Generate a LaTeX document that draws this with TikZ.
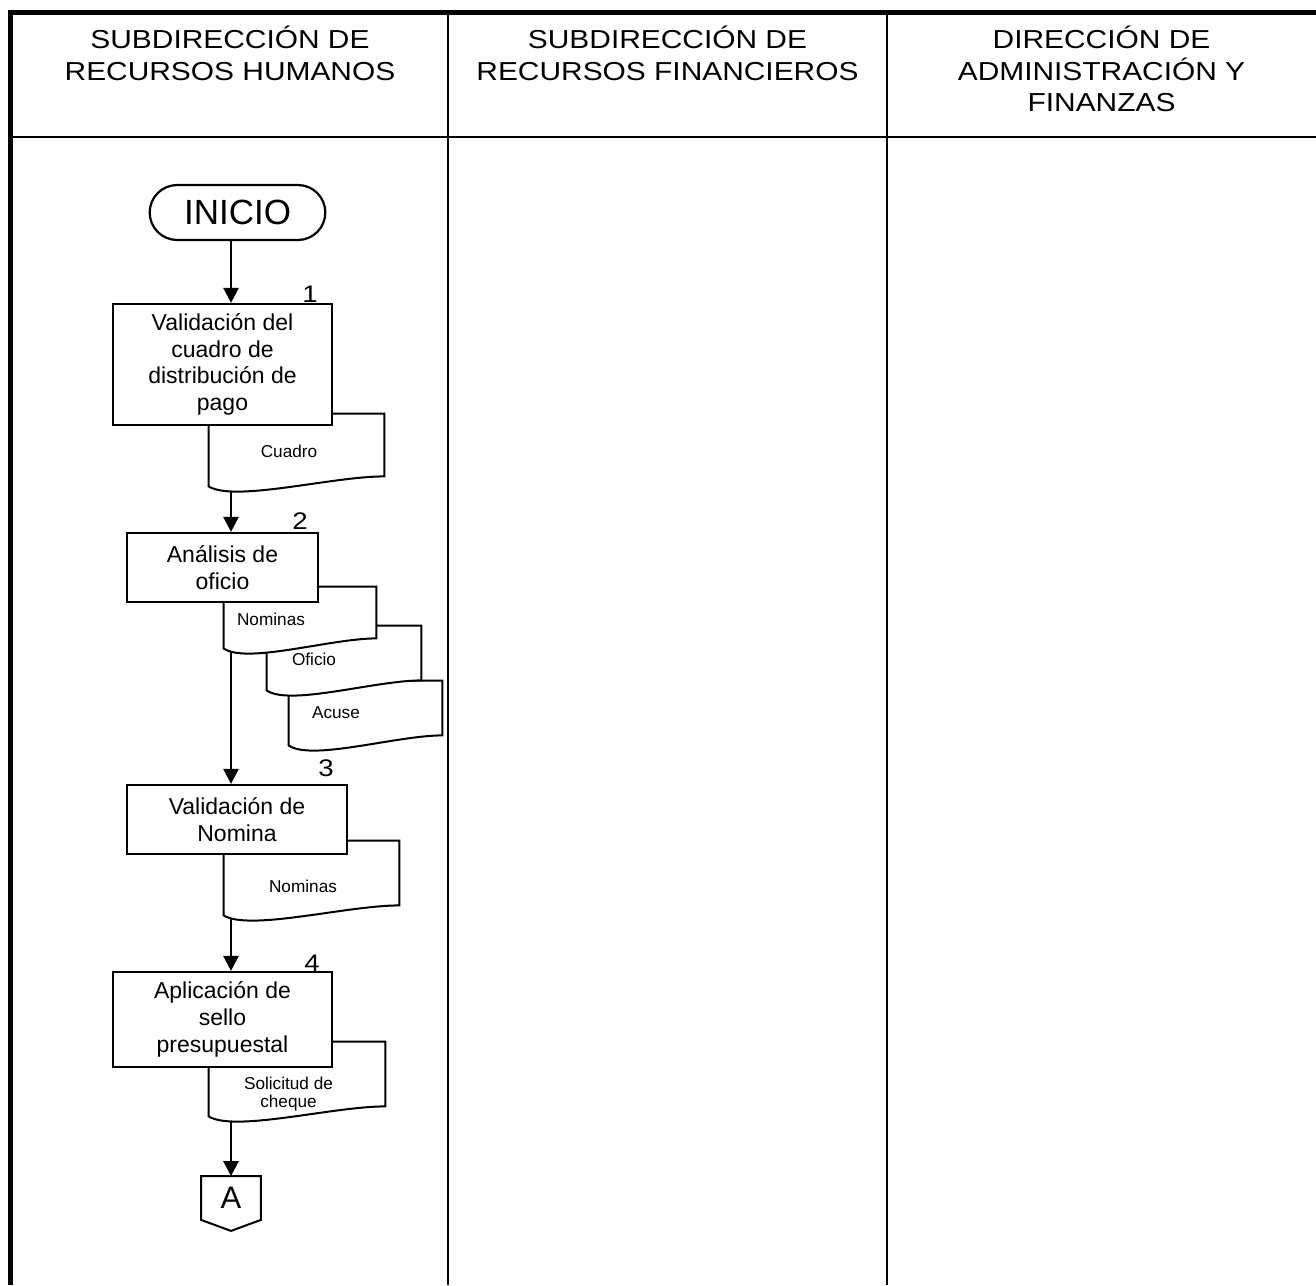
\documentclass[tikz,border=0pt]{standalone}
\usepackage{fontspec}
\setmainfont{Liberation Sans}
\newfontfamily\headfont{Liberation Sans}[FakeStretch=1.15]
\usetikzlibrary{arrows.meta,shapes.misc,calc,backgrounds}

% document symbol with a wavy lower edge, drawn round a named node
\newcommand{\docoutline}[1]{%
  \filldraw[docline] ($(#1.south west)+(0,10)$) -- (#1.north west) -- (#1.north east) -- (#1.south east)
    .. controls ($(#1.south east)!0.3!(#1.south west)$) and ($(#1.south west)!0.15!(#1.south east)+(0,26)$) .. ($(#1.south west)+(0,10)$) -- cycle;}

\begin{document}
\begin{tikzpicture}[x=0.5pt,y=-0.5pt,>={Triangle[length=7.5pt,width=7.5pt]},
headtext/.style={font=\headfont\fontsize{13}{15.7}\selectfont,align=center,anchor=north,inner sep=0pt},
procbox/.style={draw,fill=white,line width=1.1pt,align=center,inner sep=2pt,font=\fontsize{11.5}{13.3}\selectfont},
docbox/.style={inner sep=0pt},
doctext/.style={align=center,inner sep=0pt,font=\fontsize{8.6}{9}\selectfont},
docline/.style={draw,fill=white,line width=1pt},
stepnum/.style={inner sep=0pt,font=\headfont\fontsize{12}{14}\selectfont},
flow/.style={->,line width=1.3pt}]
\useasboundingbox (0,0) rectangle (1316,1285);

% frame and lanes
\draw[line width=2.5pt] (10.5,1285) -- (10.5,12.5) -- (1316,12.5);
\draw[line width=1pt] (10.5,136.5) -- (1316,136.5);
\draw[line width=1.3pt] (448,12.5) -- (448,1285);
\draw[line width=1.3pt] (887,12.5) -- (887,1285);

\node[headtext] (hrh) at (230,26) {SUBDIRECCIÓN DE\\RECURSOS HUMANOS};
\node[headtext] (hrf) at (667.5,26) {SUBDIRECCIÓN DE\\RECURSOS FINANCIEROS};
\node[headtext] (haf) at (1101.5,26) {DIRECCIÓN DE\\ADMINISTRACIÓN Y\\FINANZAS};

% flow
\coordinate (axis) at (231,0);
\node[rounded rectangle,draw,line width=1.1pt,minimum width=94.5pt,minimum height=27.5pt,font=\fontsize{17.5}{20}\selectfont] (inicio) at (237.5,212.5) {INICIO};
\node[procbox,minimum width=109.5pt,minimum height=60.5pt] (valcuadro) at (222.5,364.5) {Validación del\\cuadro de\\distribución de\\pago};
\node[procbox,minimum width=95.5pt,minimum height=34.5pt] (analisis) at (222.5,567.5) {Análisis de\\oficio};
\node[procbox,minimum width=110pt,minimum height=34.5pt] (valnomina) at (237,819.5) {Validación de\\Nomina};
\node[procbox,minimum width=109.5pt,minimum height=47.5pt] (sello) at (222.5,1019.5) {Aplicación de\\sello\\presupuestal};

\node[stepnum] (n1) at (310,294) {1};
\node[stepnum] (n2) at (300,521) {2};
\node[stepnum] (n3) at (326,768) {3};
\node[stepnum] (n4) at (312,963) {4};

\node[docbox,minimum width=87.5pt,minimum height=31pt] (cuadro) at (296.5,445) {};
\node[doctext] (cuadrot) at (289,451) {Cuadro};
\node[docbox,minimum width=76pt,minimum height=25.5pt] (nomina1) at (300,612.5) {};
\node[doctext] (nomina1t) at (271,619) {Nominas};
\node[docbox,minimum width=77pt,minimum height=27pt] (oficio) at (344,653) {};
\node[doctext] (oficiot) at (314,659) {Oficio};
\node[docbox,minimum width=76.5pt,minimum height=27pt] (acuse) at (365.5,708) {};
\node[doctext] (acuset) at (336,713) {Acuse};
\node[docbox,minimum width=87.5pt,minimum height=32pt] (nomina2) at (311.5,873) {};
\node[doctext] (nomina2t) at (303,886) {Nominas};
\node[docbox,minimum width=88pt,minimum height=32pt] (solicitud) at (297,1074) {};
\node[doctext] (solicitudt) at (288.5,1094) {Solicitud de\\cheque};

\node[inner sep=0pt,minimum width=29.5pt,minimum height=21.5pt,font=\fontsize{15.5}{18}\selectfont] (conA) at (231,1198) {A};
\draw[line width=1pt] (conA.north west) -- (conA.north east) -- (conA.south east) -- ($(conA.south)+(0,11)$) -- (conA.south west) -- cycle;

\draw[flow] (inicio.south -| axis) -- (valcuadro.north -| axis);

\begin{scope}[on background layer]
\draw[flow] (cuadro.center -| axis) -- (analisis.north -| axis);
\draw[flow] (nomina1.center -| axis) -- (valnomina.north -| axis);
\draw[flow] (nomina2.center -| axis) -- (sello.north -| axis);
\draw[flow] (solicitud.center -| axis) -- (conA.north -| axis);
\docoutline{cuadro}
\docoutline{acuse}
\docoutline{oficio}
\docoutline{nomina1}
\docoutline{nomina2}
\docoutline{solicitud}
\end{scope}
\end{tikzpicture}
\end{document}
